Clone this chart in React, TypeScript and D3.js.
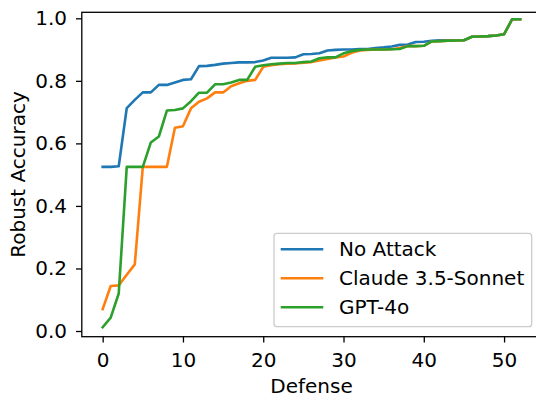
import React, { useEffect, useRef } from "react";
import * as d3 from "d3";

const defenses = d3.range(0, 53);

const noAttack = [
  0.525, 0.525, 0.527, 0.713, 0.739, 0.763, 0.763, 0.787, 0.787, 0.795,
  0.803, 0.805, 0.847, 0.848, 0.851, 0.855, 0.857, 0.859, 0.859, 0.86,
  0.865, 0.874, 0.874, 0.874, 0.875, 0.885, 0.886, 0.888, 0.897, 0.899,
  0.9, 0.9, 0.902, 0.902, 0.905, 0.907, 0.91, 0.915, 0.916, 0.924,
  0.925, 0.928, 0.93, 0.93, 0.93, 0.93, 0.941, 0.942, 0.943, 0.945,
  0.949, 0.997, 0.997,
];

const claude = [
  0.07, 0.144, 0.146, 0.18, 0.213, 0.525, 0.525, 0.525, 0.525, 0.65,
  0.655, 0.712, 0.733, 0.744, 0.763, 0.763, 0.783, 0.792, 0.8, 0.803,
  0.845, 0.85, 0.853, 0.855, 0.856, 0.858, 0.86, 0.865, 0.87, 0.875,
  0.878, 0.89, 0.897, 0.899, 0.9, 0.9, 0.901, 0.905, 0.911, 0.911,
  0.912, 0.926, 0.927, 0.928, 0.929, 0.93, 0.941, 0.942, 0.943, 0.945,
  0.949, 0.997, 0.997,
];

const gpt4o = [
  0.012, 0.043, 0.12, 0.525, 0.525, 0.525, 0.603, 0.622, 0.705, 0.707,
  0.712, 0.735, 0.762, 0.762, 0.789, 0.789, 0.795, 0.803, 0.803, 0.845,
  0.85, 0.853, 0.855, 0.857, 0.857, 0.86, 0.862, 0.872, 0.875, 0.875,
  0.888, 0.895, 0.899, 0.9, 0.9, 0.9, 0.901, 0.902, 0.911, 0.911,
  0.912, 0.926, 0.927, 0.928, 0.929, 0.93, 0.941, 0.942, 0.943, 0.945,
  0.949, 0.997, 0.997,
];

const seriesNames = ["No Attack", "Claude 3.5-Sonnet", "GPT-4o"];
const seriesColors = ["#1f77b4", "#ff7f0e", "#2ca02c"];
const xTicks = [0, 10, 20, 30, 40, 50];
const yTicks = [0, 0.2, 0.4, 0.6, 0.8, 1.0];

const App = () => {
  const svgRef = useRef(null);
  const width = 536;
  const height = 394;
  const font = "DejaVu Sans";
  const fs = 20;

  useEffect(() => {
    const svg = d3.select(svgRef.current);
    svg.selectAll("*").remove();

    const left = 81.8;
    const right = 541;
    const top = 12.3;
    const bottom = 336.7;

    const x = d3.scaleLinear().domain([-2.6, 54.6]).range([left, right]);
    const y = d3.scaleLinear().domain([-0.0182, 1.0192]).range([bottom, top]);

    const allSeries = [noAttack, claude, gpt4o];

    const line = d3
      .line<number>()
      .x((d, i) => x(defenses[i]))
      .y((d) => y(d));

    allSeries.forEach((s, k) => {
      svg
        .append("path")
        .attr("d", line(s))
        .attr("fill", "none")
        .attr("stroke", seriesColors[k])
        .attr("stroke-width", 2.6)
        .attr("stroke-linejoin", "round")
        .attr("stroke-linecap", "square");
    });

    // spines
    svg
      .append("rect")
      .attr("x", left)
      .attr("y", top)
      .attr("width", right - left)
      .attr("height", bottom - top)
      .attr("fill", "none")
      .attr("stroke", "black")
      .attr("stroke-width", 1.3);

    const xAxisG = svg
      .append("g")
      .attr("transform", `translate(0,${bottom})`)
      .call(d3.axisBottom(x).tickValues(xTicks).tickSize(5.8).tickPadding(10));
    xAxisG.select(".domain").remove();

    const yAxisG = svg
      .append("g")
      .attr("transform", `translate(${left},0)`)
      .call(
        d3
          .axisLeft(y)
          .tickValues(yTicks)
          .tickFormat(d3.format(".1f"))
          .tickSize(5.8)
          .tickPadding(9)
      );
    yAxisG.select(".domain").remove();

    svg
      .selectAll(".tick line")
      .attr("stroke", "black")
      .attr("stroke-width", 1.3);
    svg
      .selectAll(".tick text")
      .attr("fill", "black")
      .style("font-family", font)
      .style("font-size", `${fs}px`);

    svg
      .append("text")
      .attr("x", 311.5)
      .attr("y", 392.5)
      .attr("text-anchor", "middle")
      .style("font-family", font)
      .style("font-size", `${fs}px`)
      .text("Defense");

    svg
      .append("text")
      .attr("transform", `translate(25,${(top + bottom) / 2}) rotate(-90)`)
      .attr("text-anchor", "middle")
      .style("font-family", font)
      .style("font-size", `${fs}px`)
      .text("Robust Accuracy");

    // legend
    const lg = svg.append("g");
    lg.append("rect")
      .attr("x", 274)
      .attr("y", 233.3)
      .attr("width", 257.7)
      .attr("height", 93.4)
      .attr("rx", 3)
      .attr("fill", "white")
      .attr("fill-opacity", 0.8)
      .attr("stroke", "#cccccc")
      .attr("stroke-width", 1.3);

    seriesNames.forEach((name, k) => {
      const ly = 249.3 + k * 29;
      lg.append("line")
        .attr("x1", 280.7)
        .attr("x2", 323.3)
        .attr("y1", ly)
        .attr("y2", ly)
        .attr("stroke", seriesColors[k])
        .attr("stroke-width", 2.6);
      lg.append("text")
        .attr("x", 339)
        .attr("y", ly + 7)
        .style("font-family", font)
        .style("font-size", `${fs}px`)
        .text(name);
    });
  }, []);

  return (
    <svg
      ref={svgRef}
      width={width}
      height={height}
      style={{ position: "absolute", left: 0, top: 0, background: "white" }}
    ></svg>
  );
};

export default App;
